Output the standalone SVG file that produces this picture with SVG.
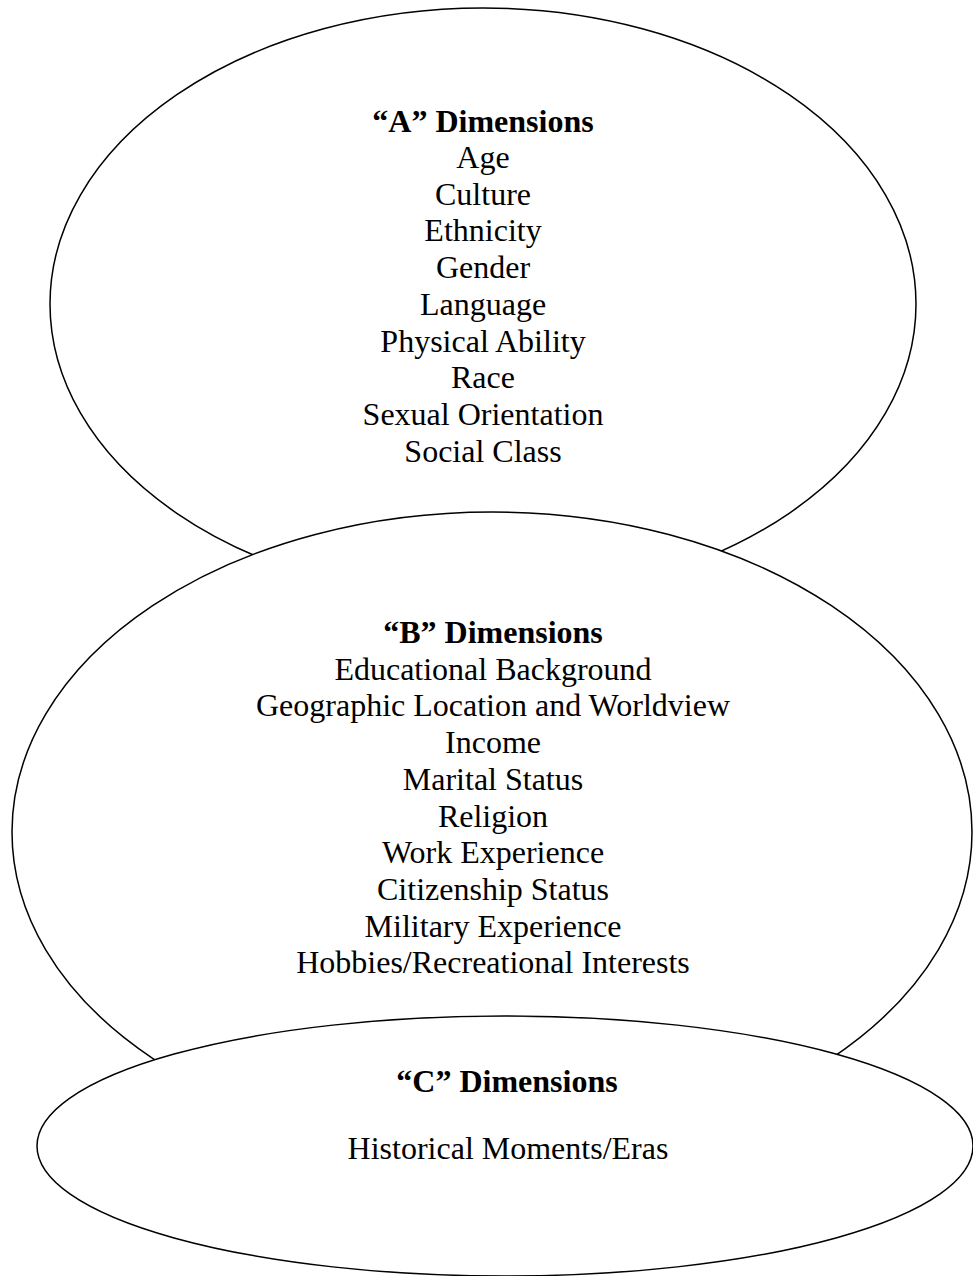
<svg xmlns="http://www.w3.org/2000/svg" width="973" height="1276" viewBox="0 0 973 1276">
  <style>
    .oval { fill: #ffffff; stroke: #000000; stroke-width: 1.5; }
    text { font-family: "Liberation Serif", "Times New Roman", serif; font-size: 32px; fill: #000000; text-anchor: middle; }
    .head { font-weight: bold; }
  </style>
  <rect width="973" height="1276" fill="#ffffff"/>

  <!-- A dimensions (back oval) -->
  <g id="node-a">
    <ellipse class="oval" cx="483" cy="304" rx="433" ry="296"/>
    <text class="head" x="483" y="132">“A” Dimensions</text>
    <text x="483" y="168">Age</text>
    <text x="483" y="204.7">Culture</text>
    <text x="483" y="241.4">Ethnicity</text>
    <text x="483" y="278.1">Gender</text>
    <text x="483" y="314.8">Language</text>
    <text x="483" y="351.5">Physical Ability</text>
    <text x="483" y="388.2">Race</text>
    <text x="483" y="424.9">Sexual Orientation</text>
    <text x="483" y="461.6">Social Class</text>
  </g>

  <!-- B dimensions (middle oval) -->
  <g id="node-b">
    <ellipse class="oval" cx="492" cy="832" rx="480" ry="320"/>
    <text class="head" x="493" y="643">“B” Dimensions</text>
    <text x="493" y="679.7">Educational Background</text>
    <text x="493" y="716.4">Geographic Location and Worldview</text>
    <text x="493" y="753.1">Income</text>
    <text x="493" y="789.8">Marital Status</text>
    <text x="493" y="826.5">Religion</text>
    <text x="493" y="863.2">Work Experience</text>
    <text x="493" y="899.9">Citizenship Status</text>
    <text x="493" y="936.6">Military Experience</text>
    <text x="493" y="973.3">Hobbies/Recreational Interests</text>
  </g>

  <!-- C dimensions (front oval) -->
  <g id="node-c">
    <ellipse class="oval" cx="505" cy="1146" rx="468" ry="130"/>
    <text class="head" x="507" y="1092">“C” Dimensions</text>
    <text x="508" y="1159">Historical Moments/Eras</text>
  </g>

  <g id="connectors"></g>
</svg>
